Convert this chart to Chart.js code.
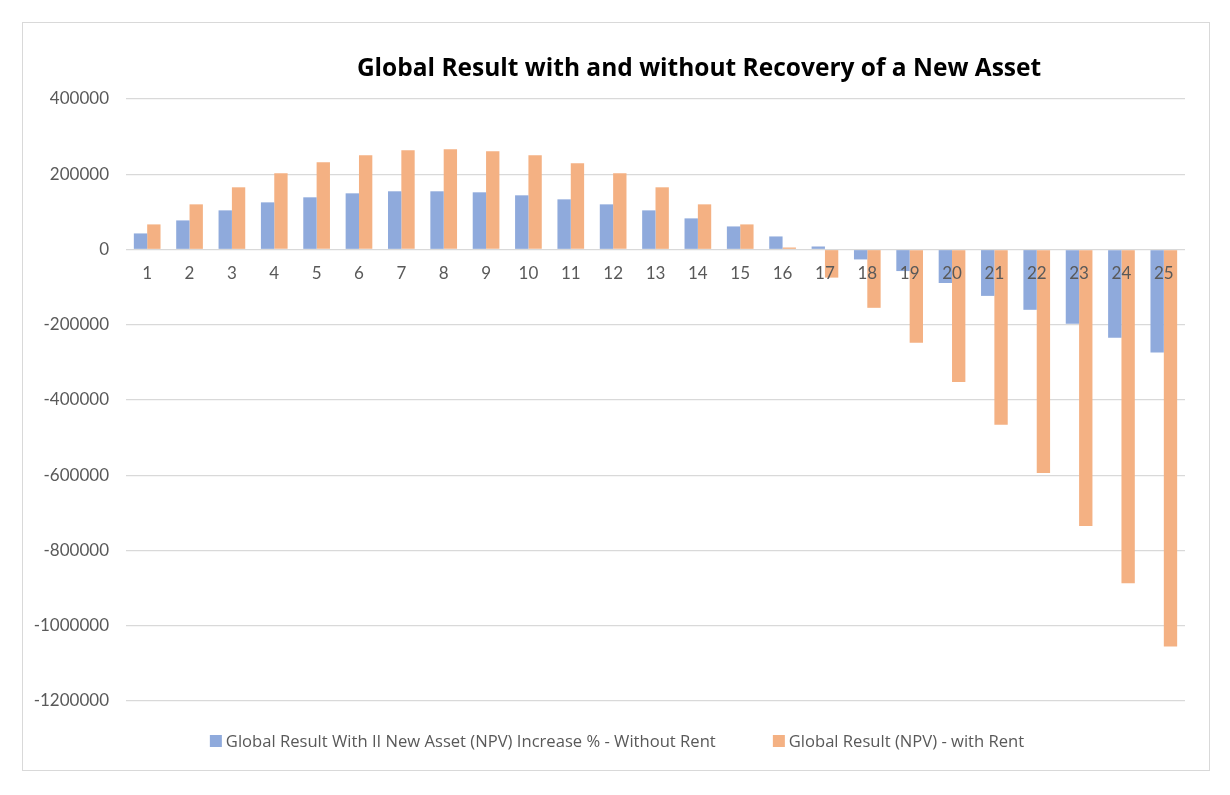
<!DOCTYPE html>
<html>
<head>
<meta charset="utf-8">
<script src="https://cdn.jsdelivr.net/npm/chart.js@4.4.1/dist/chart.umd.min.js"></script>
<style>
html,body{margin:0;padding:0;background:#fff;}
#wrap{position:relative;width:1230px;height:795px;}
#frame{position:absolute;left:22px;top:22px;width:1186px;height:747px;border:1.5px solid #d9d9d9;}
#chart{position:absolute;left:0;top:0;}
#title{position:absolute;left:699px;top:51px;transform:translateX(-50%);white-space:nowrap;
font-family:"Open Sans",sans-serif;font-weight:bold;font-size:24.5px;color:#000;line-height:32px;}
#legend{position:absolute;left:617px;top:731px;transform:translateX(-50%);display:flex;white-space:nowrap;
font-family:"Open Sans",sans-serif;font-size:16.6px;color:#595959;line-height:20px;}
.item{display:flex;align-items:center;}
.item + .item{margin-left:57px;}
.box{width:12px;height:12px;margin-right:4px;}
</style>
</head>
<body>
<div id="wrap">
<div id="frame"></div>
<canvas id="chart" width="1230" height="795"></canvas>
<div id="title">Global Result with and without Recovery of a New Asset</div>
<div id="legend"></div>
</div>
<script>

/* ============================= */
/* DATA */
/* ============================= */

const years = ["1","2","3","4","5","6","7","8","9","10","11","12","13","14","15","16","17","18","19","20","21","22","23","24","25"]

const withoutRent = [42700,77300,104000,125300,138700,149300,154700,154700,152000,144000,133300,120000,104000,82700,61300,34700,8000,-26400,-57300,-89000,-123300,-160300,-197400,-234400,-274000]

const withRent = [66700,120000,165300,202700,232000,250700,264000,266700,261300,250700,229300,202700,165300,120000,66700,5300,-74700,-155000,-247600,-352000,-465800,-593800,-735100,-887100,-1055000]

const seriesNames = ["Global Result With II New Asset (NPV) Increase % - Without Rent","Global Result (NPV) - with Rent"]
const seriesColors = ["#8faadc","#f4b183"]

const yMin = -1200000
const yMax = 400000
const yStep = 200000


/* ============================= */
/* CHART */
/* ============================= */

const chart = new Chart(
document.getElementById("chart"),
{
type:"bar",

data:{
labels:years,
datasets:[
{
label:seriesNames[0],
data:withoutRent,
backgroundColor:seriesColors[0]
},
{
label:seriesNames[1],
data:withRent,
backgroundColor:seriesColors[1]
}
]
},

options:{
animation:false,
responsive:false,
devicePixelRatio:1,
categoryPercentage:0.63,
barPercentage:1,

layout:{
padding:{left:22,right:45,top:99,bottom:94}
},

plugins:{
legend:{display:false},
title:{display:false},
tooltip:{enabled:false}
},

scales:{
x:{
position:{y:0},
grid:{display:false},
border:{display:false},
ticks:{
z:1,
color:"#595959",
padding:6,
maxRotation:0,
autoSkip:false,
font:{family:"Lato",size:17}
}
},
y:{
min:yMin,
max:yMax,
afterFit:function(scale){ scale.width=104 },
border:{display:false},
grid:{
color:"#d9d9d9",
lineWidth:1.3,
drawTicks:false
},
ticks:{
stepSize:yStep,
color:"#595959",
padding:17,
font:{family:"Lato",size:17},
callback:function(v){ return String(v) }
}
}
}
}
});


/* ============================= */
/* LEGEND */
/* ============================= */

const legendBox = document.getElementById("legend")

seriesNames.forEach((name,i)=>{

legendBox.innerHTML+=`<div class="item"><div class="box" style="background:${seriesColors[i]}"></div><span>${name}</span></div>`

})

</script>
</body>
</html>
